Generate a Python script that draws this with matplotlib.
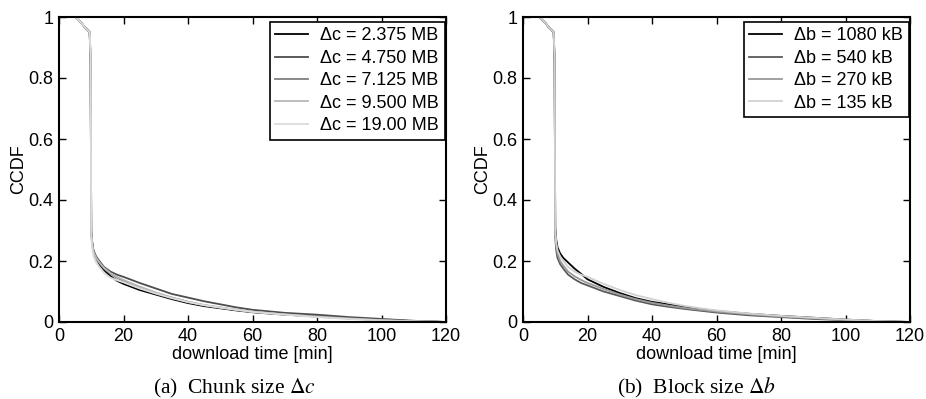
import numpy as np
import matplotlib
matplotlib.use("Agg")
import matplotlib.pyplot as plt

plt.rcParams["font.family"] = ["Liberation Sans", "DejaVu Sans"]
plt.rcParams["mathtext.fontset"] = "stix"

# download time [min], shared sample points
t = [3.5, 5, 6, 7, 8, 9, 9.5, 9.8, 10.0, 10.3, 10.7, 11.5, 12.5, 14, 16, 18, 20, 25, 30,
     35, 40, 45, 50, 55, 60, 70, 80, 90, 100, 110, 120]

# (a) chunk size
chunk_labels = ["\u0394c = 2.375 MB", "\u0394c = 4.750 MB", "\u0394c = 7.125 MB",
                "\u0394c = 9.500 MB", "\u0394c = 19.00 MB"]
chunk_ccdf = [
    [1, 1, 0.99, 0.98, 0.965, 0.955, 0.95, 0.86, 0.30, 0.26, 0.23, 0.21, 0.19, 0.17, 0.15,
     0.135, 0.125, 0.105, 0.09, 0.075, 0.062, 0.052, 0.045, 0.038, 0.032, 0.024, 0.018,
     0.012, 0.007, 0.003, 0.0],
    [1, 1, 0.99, 0.98, 0.967, 0.957, 0.95, 0.85, 0.29, 0.26, 0.235, 0.215, 0.2, 0.18, 0.165,
     0.155, 0.148, 0.128, 0.11, 0.092, 0.08, 0.068, 0.058, 0.048, 0.04, 0.03, 0.024,
     0.016, 0.01, 0.004, 0.0],
    [1, 1, 0.99, 0.98, 0.966, 0.956, 0.95, 0.86, 0.29, 0.255, 0.23, 0.21, 0.195, 0.175, 0.158,
     0.145, 0.135, 0.115, 0.095, 0.08, 0.066, 0.055, 0.047, 0.04, 0.033, 0.025, 0.018,
     0.012, 0.006, 0.002, 0.0],
    [1, 1, 0.99, 0.98, 0.965, 0.955, 0.95, 0.87, 0.30, 0.26, 0.23, 0.21, 0.195, 0.177, 0.16,
     0.148, 0.138, 0.116, 0.097, 0.08, 0.067, 0.056, 0.048, 0.04, 0.034, 0.025, 0.017,
     0.011, 0.006, 0.003, 0.0],
    [1, 1, 0.99, 0.98, 0.966, 0.956, 0.95, 0.88, 0.28, 0.24, 0.215, 0.195, 0.18, 0.16, 0.145,
     0.137, 0.13, 0.11, 0.093, 0.078, 0.065, 0.055, 0.047, 0.04, 0.033, 0.024, 0.016,
     0.01, 0.005, 0.002, 0.0],
]

# (b) block size
block_labels = ["\u0394b = 1080 kB", "\u0394b = 540 kB", "\u0394b = 270 kB", "\u0394b = 135 kB"]
block_ccdf = [
    [1, 1, 0.99, 0.98, 0.965, 0.955, 0.95, 0.86, 0.31, 0.27, 0.245, 0.225, 0.21, 0.195, 0.175,
     0.158, 0.14, 0.115, 0.095, 0.078, 0.066, 0.058, 0.05, 0.043, 0.036, 0.027, 0.02,
     0.014, 0.008, 0.003, 0.0],
    [1, 1, 0.99, 0.98, 0.966, 0.956, 0.95, 0.85, 0.28, 0.235, 0.21, 0.19, 0.175, 0.155, 0.14,
     0.128, 0.12, 0.1, 0.085, 0.07, 0.058, 0.05, 0.043, 0.037, 0.031, 0.022, 0.016,
     0.01, 0.006, 0.002, 0.0],
    [1, 1, 0.99, 0.98, 0.966, 0.956, 0.95, 0.86, 0.29, 0.25, 0.225, 0.2, 0.185, 0.165, 0.15,
     0.138, 0.128, 0.108, 0.09, 0.075, 0.063, 0.054, 0.046, 0.04, 0.034, 0.025, 0.018,
     0.012, 0.007, 0.003, 0.0],
    [1, 1, 0.99, 0.98, 0.965, 0.955, 0.95, 0.87, 0.30, 0.26, 0.235, 0.215, 0.2, 0.18, 0.165,
     0.155, 0.148, 0.125, 0.105, 0.088, 0.075, 0.063, 0.053, 0.045, 0.038, 0.028, 0.02,
     0.014, 0.008, 0.003, 0.0],
]

greys5 = ["0.0", "0.3", "0.5", "0.72", "0.86"]
greys4 = ["0.0", "0.35", "0.6", "0.82"]

fig = plt.figure(figsize=(9.26, 3.99), dpi=100)
ax1 = fig.add_axes([59 / 926, 1 - 322 / 399, 387 / 926, 305 / 399])
ax2 = fig.add_axes([523 / 926, 1 - 322 / 399, 387 / 926, 305 / 399])


def draw(ax, curves, labels, colors, caption, cap_x):
    for y, lab, c in zip(curves, labels, colors):
        ax.plot(t, y, color=c, lw=1.3, label=lab)
    ax.set_xlim(0, 120)
    ax.set_ylim(0, 1)
    ax.set_xticks(np.arange(0, 121, 20))
    ax.set_yticks([0, 0.2, 0.4, 0.6, 0.8, 1])
    ax.set_yticklabels(["0", "0.2", "0.4", "0.6", "0.8", "1"])
    ax.tick_params(direction="in", top=True, right=True, length=5, width=1,
                   labelsize=13)
    ax.tick_params(axis="x", pad=4)
    ax.tick_params(axis="y", pad=4)
    for s in ax.spines.values():
        s.set_linewidth(1.5)
    ax.set_xlabel("download time [min]", fontsize=13, labelpad=1)
    ax.set_ylabel("CCDF", fontsize=13, labelpad=1)
    leg = ax.legend(loc="upper right", bbox_to_anchor=(1 - 1.5 / 387, 1 - 5 / 305),
                    fontsize=13, fancybox=False, framealpha=1,
                    edgecolor="black", borderaxespad=0, handlelength=1.8,
                    labelspacing=0.3, borderpad=0.3, handletextpad=0.7)
    leg.get_frame().set_linewidth(1.2)
    fig.text(cap_x, 1 - 388 / 399, caption, ha="center", va="center",
             fontsize=15.5, family="Liberation Serif")


draw(ax1, chunk_ccdf, chunk_labels, greys5, r"(a)  Chunk size $\Delta c$", 234 / 926)
draw(ax2, block_ccdf, block_labels, greys4, r"(b)  Block size $\Delta b$", 697 / 926)

fig.savefig("out.png", dpi=100)
